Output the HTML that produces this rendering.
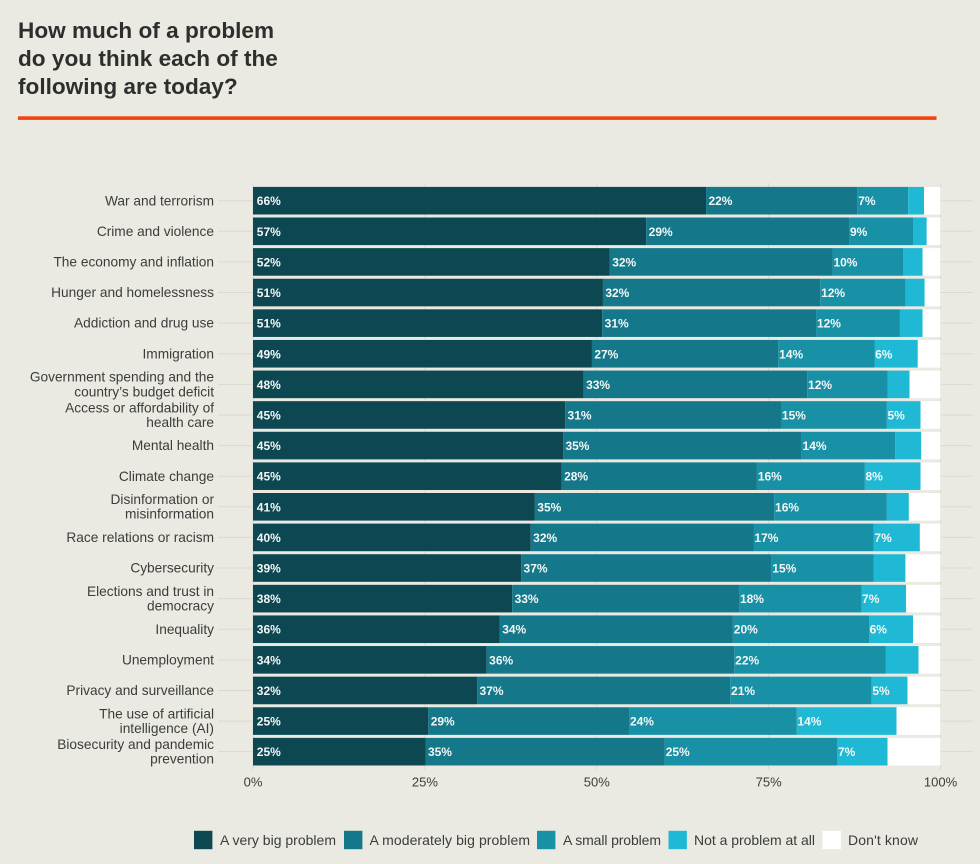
<!DOCTYPE html>
<html lang="en">
<head>
<meta charset="utf-8">
<title>How much of a problem do you think each of the following are today?</title>
<style>
  html, body { margin: 0; padding: 0; background: #eaeae2; }
  body { width: 980px; height: 864px; overflow: hidden; position: relative; }
  svg { display: block; position: absolute; left: 0; top: 0; font-family: "Liberation Sans", sans-serif; }
</style>
</head>
<body>
<svg id="chart" width="980" height="864" viewBox="0 0 980 864" xmlns="http://www.w3.org/2000/svg">
  <rect x="0" y="0" width="980" height="864" fill="#eaeae2"/>
  <g font-size="22.6" font-weight="700" fill="#2e2e2e">
    <text x="18" y="38">How much of a problem</text>
    <text x="18" y="66">do you think each of the</text>
    <text x="18" y="94">following are today?</text>
  </g>
  <rect x="18" y="116.3" width="918.5" height="3.6" fill="#f2430d"/>
  <g id="grid"></g>
  <g id="bars"></g>
  <g id="ylabels"></g>
  <g id="xlabels"></g>
  <g id="legend"></g>
</svg>
<script>
const categories = [
  ["War and terrorism"],
  ["Crime and violence"],
  ["The economy and inflation"],
  ["Hunger and homelessness"],
  ["Addiction and drug use"],
  ["Immigration"],
  ["Government spending and the", "country\u2019s budget deficit"],
  ["Access or affordability of", "health care"],
  ["Mental health"],
  ["Climate change"],
  ["Disinformation or", "misinformation"],
  ["Race relations or racism"],
  ["Cybersecurity"],
  ["Elections and trust in", "democracy"],
  ["Inequality"],
  ["Unemployment"],
  ["Privacy and surveillance"],
  ["The use of artificial", "intelligence (AI)"],
  ["Biosecurity and pandemic", "prevention"]
];
const seriesNames = ["A very big problem", "A moderately big problem", "A small problem", "Not a problem at all", "Don't know"];
const veryBig = [65.9, 57.2, 51.9, 50.9, 50.8, 49.3, 48.1, 45.4, 45.1, 44.9, 41.0, 40.4, 39.0, 37.7, 35.9, 34.0, 32.6, 25.5, 25.1];
const moderatelyBig = [22.0, 29.5, 32.4, 31.6, 31.1, 27.1, 32.5, 31.4, 34.7, 28.4, 34.8, 32.4, 36.4, 33.0, 33.9, 36.0, 36.8, 29.2, 34.8];
const smallProblem = [7.4, 9.3, 10.3, 12.4, 12.2, 14.0, 11.7, 15.4, 13.6, 15.7, 16.4, 17.5, 14.9, 17.8, 19.8, 22.0, 20.6, 24.4, 25.1];
const notAProblem = [2.3, 2.0, 2.8, 2.8, 3.3, 6.3, 3.2, 4.9, 3.8, 8.1, 3.2, 6.7, 4.6, 6.5, 6.4, 4.8, 5.2, 14.5, 7.3];
const dontKnow = [2.4, 2.0, 2.6, 2.3, 2.6, 3.3, 4.5, 2.9, 2.8, 2.9, 4.6, 3.0, 5.1, 5.0, 4.0, 3.2, 4.8, 6.4, 7.7];
const veryBigLabels = [66, 57, 52, 51, 51, 49, 48, 45, 45, 45, 41, 40, 39, 38, 36, 34, 32, 25, 25];
const moderatelyBigLabels = [22, 29, 32, 32, 31, 27, 33, 31, 35, 28, 35, 32, 37, 33, 34, 36, 37, 29, 35];
const smallProblemLabels = [7, 9, 10, 12, 12, 14, 12, 15, 14, 16, 16, 17, 15, 18, 20, 22, 21, 24, 25];
const notAProblemLabels = [null, null, null, null, null, 6, null, 5, null, 8, null, 7, null, 7, 6, null, 5, 14, 7];
const xTicks = [0, 25, 50, 75, 100];

const seriesValues = [veryBig, moderatelyBig, smallProblem, notAProblem, dontKnow];
const seriesLabels = [veryBigLabels, moderatelyBigLabels, smallProblemLabels, notAProblemLabels, null];
const seriesColors = ["#0c4752", "#15788a", "#1890a6", "#20b9d5", "#ffffff"];

const NS = "http://www.w3.org/2000/svg";
const plotLeft = 253, plotRight = 940.5, rowTop = 200.7, rowStep = 30.61, barHeight = 27.6;
const labelOffsets = [3.8, 2.4, 0.9, 0.6];
function xScale(v) { return plotLeft + (plotRight - plotLeft) * v / 100; }
function yScale(i) { return rowTop + rowStep * i; }
function make(tag, parent, attrs) {
  const el = document.createElementNS(NS, tag);
  for (const k in attrs) el.setAttribute(k, attrs[k]);
  parent.appendChild(el);
  return el;
}
function slug(s) { return s.toLowerCase().replace(/[^a-z0-9]+/g, "-").replace(/^-|-$/g, ""); }

const gridG = document.getElementById("grid");
const barsG = document.getElementById("bars");
const yG = document.getElementById("ylabels");
const xG = document.getElementById("xlabels");
const legendG = document.getElementById("legend");

xTicks.forEach(function (t) {
  const line = make("line", gridG, { x1: xScale(t), x2: xScale(t), y1: 183, y2: 770, stroke: "#d9d9d1", "stroke-width": 1 });
  
  
  const label = make("text", xG, { x: xScale(t), y: 786.5, "text-anchor": "middle", "font-size": 13, fill: "#3c3c3c" });
  
  
  label.textContent = t + "%";
});

categories.forEach(function (lines, i) {
  const cy = yScale(i);
  const name = slug(lines.join(" "));
  const left = make("line", gridG, { x1: 218, x2: plotLeft, y1: cy, y2: cy, stroke: "#d9d9d1", "stroke-width": 1 });
  
  
  const right = make("line", gridG, { x1: plotRight, x2: 973, y1: cy, y2: cy, stroke: "#d9d9d1", "stroke-width": 1 });
  
  

  const label = make("text", yG, { "text-anchor": "end", "font-size": 13.7, fill: "#3c3c3c" });
  
  
  lines.forEach(function (ln, k) {
    const yy = cy + 4.6 + (k - (lines.length - 1) / 2) * 14.6;
    const sp = make("tspan", label, { x: 214, y: yy });
    sp.textContent = ln;
  });

  let cum = 0;
  seriesValues.forEach(function (vals, s) {
    const start = cum;
    cum += vals[i];
    const rect = make("rect", barsG, {
      x: xScale(start), y: cy - barHeight / 2,
      width: xScale(cum) - xScale(start), height: barHeight, fill: seriesColors[s]
    });
    
    
  });

  cum = 0;
  seriesValues.forEach(function (vals, s) {
    const start = cum;
    cum += vals[i];
    const labs = seriesLabels[s];
    if (!labs || labs[i] === null) return;
    const t = make("text", barsG, {
      x: xScale(start) + labelOffsets[s], y: cy + 4.5,
      "font-size": 12, "font-weight": 700, fill: "#f4f6f4"
    });
    
    
    t.textContent = labs[i] + "%";
  });
});

const legendSwatchX = [194, 344, 537, 668.5, 822.5];
const legendTextX = [220, 369.5, 563, 694, 848];
const legendTextW = [116, 160.5, 98, 121, 70];
seriesNames.forEach(function (n, s) {
  const sw = make("rect", legendG, { x: legendSwatchX[s], y: 830.8, width: 18.4, height: 18.4, fill: seriesColors[s] });
  
  
  const t = make("text", legendG, {
    x: legendTextX[s], y: 845, "font-size": 14, fill: "#3c3c3c",
    textLength: legendTextW[s], lengthAdjust: "spacing"
  });
  
  
  t.textContent = n;
});
</script>
</body>
</html>
